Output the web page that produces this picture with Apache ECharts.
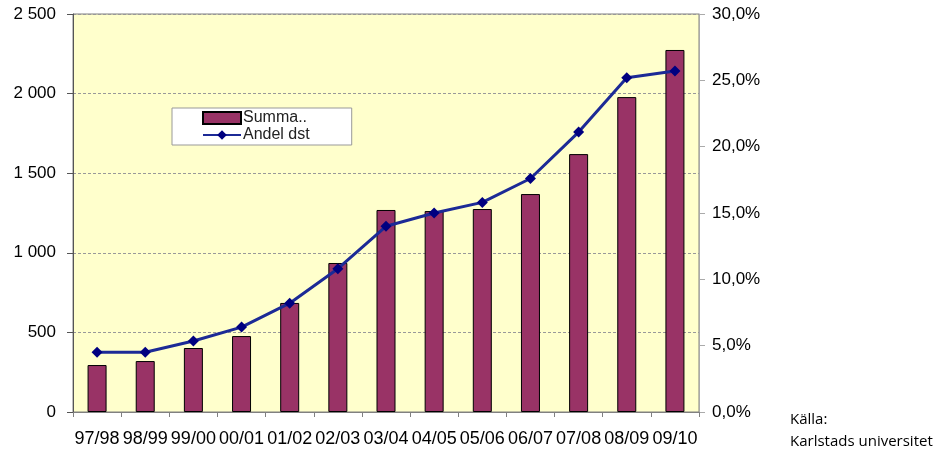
<!DOCTYPE html>
<html>
<head>
<meta charset="utf-8">
<script src="https://cdn.jsdelivr.net/npm/echarts@6/dist/echarts.min.js"></script>
<style>
html,body{margin:0;padding:0;background:#fff;}
#main{width:944px;height:450px;}
</style>
</head>
<body>
<div id="main"></div>
<script>
var categories = ['97/98','98/99','99/00','00/01','01/02','02/03','03/04','04/05','05/06','06/07','07/08','08/09','09/10'];
var summa = [295, 320, 402, 477, 685, 936, 1269, 1262, 1275, 1369, 1620, 1978, 2274];
var andelDst = [0.045, 0.045, 0.0535, 0.064, 0.082, 0.108, 0.140, 0.150, 0.158, 0.176, 0.211, 0.252, 0.257];

var myChar = echarts.init(document.getElementById('main'));
var myOption = {
	animation: false,
	grid: {
		left: 73,
		right: 245,
		top: 14,
		bottom: 38,
		show: true,
		backgroundColor: '#FFFFCC',
		borderColor: '#808080',
		borderWidth: 1
	},
	legend: {
		left: 172,
		top: 108,
		orient: 'vertical',
		backgroundColor: '#fff',
		borderColor: '#999',
		borderWidth: 1,
		padding: [2, 42, 2, 30],
		itemGap: 1,
		itemWidth: 38,
		itemHeight: 12,
		textStyle: { fontFamily: 'Liberation Sans', fontSize: 16, color: '#222', padding: [0, 0, 0, -3] },
		data: [{ name: 'Summa..', icon: 'rect' }, 'Andel dst']
	},
	xAxis: {
		type: 'category',
		data: categories,
		axisLine: { lineStyle: { color: '#808080' } },
		axisTick: { show: true, alignWithLabel: false, length: 5, lineStyle: { color: '#808080' } },
		axisLabel: {
			interval: 0,
			margin: 18,
			fontFamily: 'Liberation Sans',
			fontSize: 18,
			color: '#000'
		}
	},
	yAxis: [{
		type: 'value',
		min: 0,
		max: 2500,
		interval: 500,
		axisLine: { show: true, lineStyle: { color: '#555' } },
		axisTick: { show: true, length: 6, lineStyle: { color: '#555' } },
		splitLine: { show: true, lineStyle: { color: '#999', type: [3, 2] } },
		axisLabel: {
			margin: 17,
			fontFamily: 'Liberation Sans',
			fontSize: 17,
			color: '#000',
			formatter: function (v) {
				return String(v).replace(/\B(?=(\d{3})+(?!\d))/g, ' ');
			}
		}
	}, {
		type: 'value',
		min: 0,
		max: 0.3,
		interval: 0.05,
		axisLine: { show: true, lineStyle: { color: '#aaa' } },
		axisTick: { show: true, length: 6, lineStyle: { color: '#aaa' } },
		splitLine: { show: false },
		axisLabel: {
			margin: 13,
			fontFamily: 'Liberation Sans',
			fontSize: 17,
			color: '#000',
			formatter: function (v) {
				return (v * 100).toFixed(1).replace('.', ',') + '%';
			}
		}
	}],
	series: [{
		name: 'Summa..',
		type: 'bar',
		data: summa,
		barWidth: 19,
		itemStyle: { color: '#993366', borderColor: '#000', borderWidth: 1 }
	}, {
		name: 'Andel dst',
		type: 'line',
		yAxisIndex: 1,
		data: andelDst,
		symbol: 'diamond',
		symbolSize: 11,
		lineStyle: { color: '#1c2a96', width: 3 },
		itemStyle: { color: '#000080' }
	}],
	graphic: [{
		type: 'text',
		left: 790,
		top: 409,
		style: {
			text: 'Källa:\nKarlstads universitet',
			fontFamily: 'Open Sans',
			fontSize: 15,
			lineHeight: 22,
			fill: '#000'
		}
	}]
};
myChar.setOption(myOption);
</script>
</body>
</html>
